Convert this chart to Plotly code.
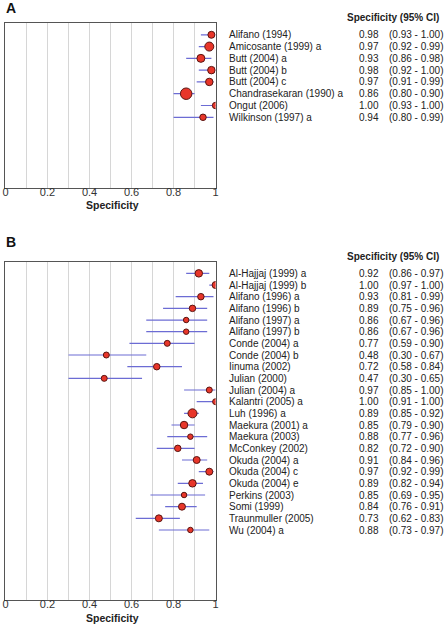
import plotly.graph_objects as go

# ---------------- data ----------------
studies_a = ["Alifano (1994)", "Amicosante (1999) a", "Butt (2004) a", "Butt (2004) b",
             "Butt (2004) c", "Chandrasekaran (1990) a", "Ongut (2006)", "Wilkinson (1997) a"]
spec_a = [0.98, 0.97, 0.93, 0.98, 0.97, 0.86, 1.00, 0.94]
lo_a = [0.93, 0.92, 0.86, 0.92, 0.91, 0.80, 0.93, 0.80]
hi_a = [1.00, 0.99, 0.98, 1.00, 0.99, 0.90, 1.00, 0.99]
weight_a = [7, 9, 8, 7.5, 7.5, 11.5, 6.5, 6.5]

studies_b = ["Al-Hajjaj (1999) a", "Al-Hajjaj (1999) b", "Alifano (1996) a", "Alifano (1996) b",
             "Alifano (1997) a", "Alifano (1997) b", "Conde (2004) a", "Conde (2004) b",
             "Iinuma (2002)", "Julian (2000)", "Julian (2004) a", "Kalantri (2005) a",
             "Luh (1996) a", "Maekura (2001) a", "Maekura (2003)", "McConkey (2002)",
             "Okuda (2004) a", "Okuda (2004) c", "Okuda (2004) e", "Perkins (2003)",
             "Somi (1999)", "Traunmuller (2005)", "Wu (2004) a"]
spec_b = [0.92, 1.00, 0.93, 0.89, 0.86, 0.86, 0.77, 0.48, 0.72, 0.47, 0.97, 1.00,
          0.89, 0.85, 0.88, 0.82, 0.91, 0.97, 0.89, 0.85, 0.84, 0.73, 0.88]
lo_b = [0.86, 0.97, 0.81, 0.75, 0.67, 0.67, 0.59, 0.30, 0.58, 0.30, 0.85, 0.91,
        0.85, 0.79, 0.77, 0.72, 0.84, 0.92, 0.82, 0.69, 0.76, 0.62, 0.73]
hi_b = [0.97, 1.00, 0.99, 0.96, 0.96, 0.96, 0.90, 0.67, 0.84, 0.65, 1.00, 1.00,
        0.92, 0.90, 0.96, 0.90, 0.96, 0.99, 0.94, 0.95, 0.91, 0.83, 0.97]
weight_b = [7.5, 7, 6.5, 6.5, 5.5, 5.5, 6, 6, 6.5, 6, 6, 6,
            9, 7.5, 5.5, 6.5, 7, 7, 7.5, 5.5, 7, 7, 5.5]

tick_vals = [0, 0.1, 0.2, 0.3, 0.4, 0.5, 0.6, 0.7, 0.8, 0.9, 1.0]
tick_text = ["0", "", "0.2", "", "0.4", "", "0.6", "", "0.8", "", "1"]

# ---------------- layout constants ----------------
W, H = 445, 624
FONT = "Liberation Sans, Arial, Helvetica, sans-serif"
MARKER_FILL = "#e8362a"
MARKER_EDGE = "#5a1410"
CI_COLOR = "#6c6cd4"

def py(px):  # pixel from top -> paper y
    return 1 - px / H

def px_x(px):
    return px / W

x_dom = [px_x(2.5), px_x(215.5)]
panels = [
    dict(name="A", studies=studies_a, spec=spec_a, lo=lo_a, hi=hi_a, w=weight_a,
         top=23, bottom=188, nrows=14, letter_y=8, header_y=17, tick_title_y=205,
         xa="x", ya="y"),
    dict(name="B", studies=studies_b, spec=spec_b, lo=lo_b, hi=hi_b, w=weight_b,
         top=261.7, bottom=600, nrows=29, letter_y=241.5, header_y=256.5, tick_title_y=618,
         xa="x2", ya="y2"),
]

fig = go.Figure()
annotations = []

for i, p in enumerate(panels):
    rows = list(range(len(p["studies"])))
    err_plus = [h - s for h, s in zip(p["hi"], p["spec"])]
    err_minus = [s - l for s, l in zip(p["spec"], p["lo"])]
    fig.add_trace(go.Scatter(
        x=p["spec"], y=rows, mode="markers",
        xaxis=p["xa"], yaxis=p["ya"],
        marker=dict(size=p["w"], color=MARKER_FILL, opacity=1,
                    line=dict(color=MARKER_EDGE, width=1)),
        error_x=dict(type="data", symmetric=False, array=err_plus, arrayminus=err_minus,
                     color=CI_COLOR, thickness=1.2, width=0),
        hoverinfo="skip", showlegend=False,
    ))
    for r, name, s, l, h in zip(rows, p["studies"], p["spec"], p["lo"], p["hi"]):
        annotations.append(dict(x=px_x(227), xref="paper", y=r, yref=p["ya"], text=name,
                                showarrow=False, xanchor="left", yanchor="middle",
                                font=dict(size=10, color="#222", family=FONT)))
        annotations.append(dict(x=px_x(359), xref="paper", y=r, yref=p["ya"], text=f"{s:.2f}",
                                showarrow=False, xanchor="left", yanchor="middle",
                                font=dict(size=10, color="#222", family=FONT)))
        annotations.append(dict(x=px_x(389.5), xref="paper", y=r, yref=p["ya"],
                                text=f"({l:.2f} - {h:.2f})",
                                showarrow=False, xanchor="left", yanchor="middle",
                                font=dict(size=10, color="#222", family=FONT)))
    # header
    annotations.append(dict(x=px_x(443.5), xref="paper", y=py(p["header_y"]), yref="paper",
                            text="<b>Specificity (95% CI)</b>", showarrow=False,
                            xanchor="right", yanchor="middle",
                            font=dict(size=10, color="#222", family=FONT)))
    # panel letter
    annotations.append(dict(x=px_x(1), xref="paper", y=py(p["letter_y"]), yref="paper",
                            text=f"<b>{p['name']}</b>", showarrow=False,
                            xanchor="left", yanchor="middle",
                            font=dict(size=14, color="#111", family=FONT)))
    # axis title
    annotations.append(dict(x=px_x(111), xref="paper", y=py(p["tick_title_y"]), yref="paper",
                            text="<b>Specificity</b>", showarrow=False,
                            xanchor="center", yanchor="middle",
                            font=dict(size=10.5, color="#222", family=FONT)))

    xkey = "xaxis" if i == 0 else "xaxis2"
    ykey = "yaxis" if i == 0 else "yaxis2"
    fig.update_layout(**{
        xkey: dict(domain=x_dom, range=[0, 1], anchor=p["ya"],
                   tickvals=tick_vals, ticktext=tick_text, ticks="",
                   ticklabeloverflow="allow", ticklabelstandoff=-6,
                   showgrid=True, gridcolor="#d6d6d6", gridwidth=1,
                   showline=True, linecolor="#555", linewidth=1, mirror=True,
                   zeroline=False, tickfont=dict(size=11, color="#333", family=FONT)),
        ykey: dict(domain=[py(p["bottom"]), py(p["top"])], anchor=p["xa"],
                   range=[p["nrows"] - 1, -1], showticklabels=False, ticks="",
                   showgrid=False, zeroline=False,
                   showline=True, linecolor="#555", linewidth=1, mirror=True),
    })

fig.update_layout(
    width=W, height=H, margin=dict(l=0, r=0, t=0, b=0),
    paper_bgcolor="white", plot_bgcolor="white",
    annotations=annotations, font=dict(family=FONT),
)

fig.write_html("out.html", config={"displayModeBar": False},
               post_script="document.body.style.margin='0';document.body.style.overflow='hidden';")
